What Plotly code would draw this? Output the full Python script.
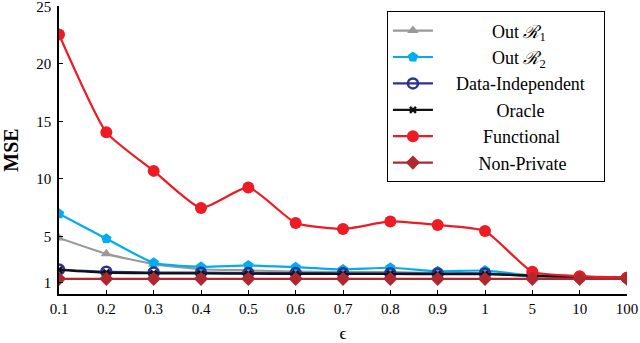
import plotly.graph_objects as go

eps = ['0.1', '0.2', '0.3', '0.4', '0.5', '0.6', '0.7', '0.8', '0.9', '1', '5', '10', '100']

out_r1 = [4.87, 3.49, 2.6, 2.15, 2.05, 1.95, 1.9, 1.9, 1.82, 1.8, 1.6, 1.5, 1.4]
out_r2 = [6.98, 4.81, 2.71, 2.36, 2.48, 2.33, 2.13, 2.28, 1.98, 2.04, 1.6, 1.5, 1.4]
data_indep = [2.13, 1.93, 1.87, 1.85, 1.82, 1.82, 1.8, 1.8, 1.78, 1.78, 1.55, 1.48, 1.4]
oracle = [2.1, 1.85, 1.8, 1.78, 1.76, 1.75, 1.74, 1.74, 1.73, 1.72, 1.6, 1.5, 1.4]
functional = [22.55, 14.05, 10.7, 7.47, 9.26, 6.17, 5.65, 6.31, 6.0, 5.48, 1.93, 1.55, 1.41]
non_private = [1.32, 1.32, 1.32, 1.32, 1.32, 1.32, 1.32, 1.32, 1.32, 1.32, 1.32, 1.32, 1.32]

SERIF = "'Liberation Serif', 'DejaVu Serif', serif"
NB = '\u00a0'

def centered(label, pad, tail=0):
    # legend labels are centred in the original, so pad with non-breaking spaces
    return NB * pad + label + NB * tail

series = [
    (centered('Out <i>ℛ</i><sub>1</sub>', 12), out_r1, '#999999', dict(symbol='triangle-up', size=10)),
    (centered('Out <i>ℛ</i><sub>2</sub>', 12), out_r2, '#00AEEF', dict(symbol='pentagon', size=11)),
    (centered('Data-Independent', 4, 3), data_indep, '#2E3192', dict(symbol='circle-open', size=10, line=dict(width=2.5))),
    (centered('Oracle', 13), oracle, '#111111', dict(symbol='x-thin-open', size=6, line=dict(width=2.5, color='#111111'))),
    (centered('Functional', 10), functional, '#ED1C24', dict(symbol='circle', size=12)),
    (centered('Non-Private', 9), non_private, '#B0282F', dict(symbol='diamond', size=11)),
]

fig = go.Figure()
for name, vals, color, marker in series:
    fig.add_trace(go.Scatter(
        x=eps, y=vals, name=name, mode='lines+markers',
        line=dict(color=color, width=2.2, shape='spline', smoothing=0.5),
        marker=dict(color=color, **marker),
    ))

fig.update_layout(
    width=640, height=343,
    margin=dict(l=59, r=13, t=6, b=49),
    paper_bgcolor='white', plot_bgcolor='white',
    font=dict(family=SERIF, size=15, color='black'),
    showlegend=True,
    legend=dict(
        x=0.577, y=0.982, xanchor='left', yanchor='top',
        bordercolor='black', borderwidth=1.2, bgcolor='white',
        font=dict(family=SERIF, size=18), itemwidth=40, tracegroupgap=0,
    ),
    xaxis=dict(
        type='category', range=[0, 12], showline=True, linecolor='black', linewidth=1.5,
        ticks='inside', ticklen=4, tickcolor='black', showgrid=False, zeroline=False,
        automargin=False, title=dict(text='ϵ', standoff=19, font=dict(family=SERIF, size=17)),
        tickfont=dict(family=SERIF, size=15), ticklabeloverflow='allow',
    ),
    yaxis=dict(
        range=[0, 25.03], tickvals=[1, 5, 10, 15, 20, 25], showline=True, linecolor='black',
        linewidth=1.5, ticks='inside', ticklen=4, tickcolor='black', showgrid=False,
        zeroline=False, automargin=False, tickfont=dict(family=SERIF, size=15),
        ticklabeloverflow='allow', ticklabelstandoff=3,
        title=dict(text='<b>MSE</b>', standoff=21, font=dict(family=SERIF, size=20)),
    ),
)

# the page's default body margin would shift the chart by 8px
fig.write_html('out.html', config={'displayModeBar': False},
               post_script="document.body.style.margin='0';")
